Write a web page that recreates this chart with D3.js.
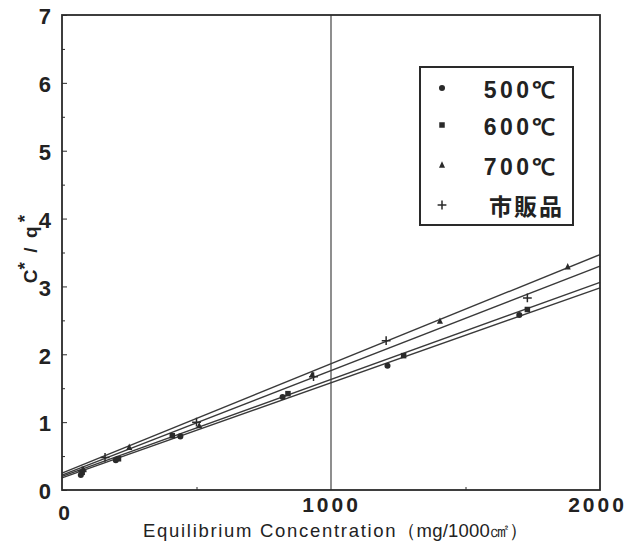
<!DOCTYPE html>
<html>
<head>
<meta charset="utf-8">
<script src="https://cdn.jsdelivr.net/npm/d3@7"></script>
<style>
  html, body { margin: 0; padding: 0; background: #fff; }
  svg { display: block; }
  .num { font-family: "Liberation Sans", Arial, sans-serif; font-weight: bold; fill: #222; }
</style>
</head>
<body>
<svg id="chart" width="637" height="542"></svg>
<script>
// Series labels and marker shapes
const seriesNames = ["500℃", "600℃", "700℃", "市販品"];
const seriesShapes = ["circle", "square", "triangle", "plus"];

// Measured points: equilibrium concentration (mg/1000cm²) and C*/q*
const conc500 = [70, 200, 440, 820, 1210, 1700];
const ratio500 = [0.22, 0.44, 0.79, 1.37, 1.83, 2.58];
const conc600 = [75, 210, 410, 840, 1270, 1730];
const ratio600 = [0.26, 0.46, 0.80, 1.42, 1.98, 2.66];
const conc700 = [80, 250, 510, 930, 1405, 1880];
const ratio700 = [0.30, 0.63, 0.95, 1.70, 2.49, 3.29];
const concCom = [75, 160, 500, 935, 1205, 1730];
const ratioCom = [0.28, 0.48, 1.00, 1.67, 2.20, 2.83];

// Fitted straight lines (intercept, slope per 1000 mg/1000cm²)
const lineIntercepts = [0.18, 0.20, 0.25, 0.22];
const lineSlopes = [1.40, 1.43, 1.61, 1.54];

// Axis ticks
const yTickLabels = [0, 1, 2, 3, 4, 5, 6, 7];
const yMinorTicks = [0.5, 1.5, 2.5, 3.5, 4.5, 5.5, 6.5];
const xTickLabels = [0, 1000, 2000];
const xMinorTicks = [500, 1500];

const pointSets = [
  d3.zip(conc500, ratio500),
  d3.zip(conc600, ratio600),
  d3.zip(conc700, ratio700),
  d3.zip(concCom, ratioCom)
];

const svg = d3.select("#chart");
const x = d3.scaleLinear().domain([0, 2000]).range([62, 600]);
const y = d3.scaleLinear().domain([0, 7]).range([490, 15]);
const ink = "#2a2a2a";

// Reference line at 1000
svg.append("line")
  .attr("x1", x(1000)).attr("x2", x(1000))
  .attr("y1", y(7)).attr("y2", y(0))
  .attr("stroke", "#444").attr("stroke-width", 1.2);

// Fitted lines
const lineGen = d3.line().x(d => x(d[0])).y(d => y(d[1]));
lineIntercepts.forEach((b, i) => {
  const pts = [0, 2000].map(c => [c, b + lineSlopes[i] * c / 1000]);
  svg.append("path")
    .attr("d", lineGen(pts))
    .attr("fill", "none")
    .attr("stroke", "#3a3a3a")
    .attr("stroke-width", 1.4);
});

// Marker drawing
function drawMarker(g, shape, cx, cy, s) {
  if (shape === "circle") {
    g.append("circle").attr("cx", cx).attr("cy", cy).attr("r", s * 0.55).attr("fill", ink);
  } else if (shape === "square") {
    g.append("rect").attr("x", cx - s * 0.5).attr("y", cy - s * 0.5)
      .attr("width", s).attr("height", s).attr("fill", ink);
  } else if (shape === "triangle") {
    const h = s * 1.1;
    g.append("path")
      .attr("d", `M${cx},${cy - h * 0.6}L${cx + h * 0.5},${cy + h * 0.45}L${cx - h * 0.5},${cy + h * 0.45}Z`)
      .attr("fill", ink);
  } else {
    const a = s * 0.8;
    g.append("path")
      .attr("d", `M${cx - a},${cy}H${cx + a}M${cx},${cy - a}V${cy + a}`)
      .attr("stroke", ink).attr("stroke-width", 1.5).attr("fill", "none");
  }
}

const marks = svg.append("g");
pointSets.forEach((pts, i) => {
  pts.forEach(p => drawMarker(marks, seriesShapes[i], x(p[0]), y(p[1]), 5.5));
});

// Frame
svg.append("rect")
  .attr("x", x(0)).attr("y", y(7))
  .attr("width", x(2000) - x(0)).attr("height", y(0) - y(7))
  .attr("fill", "none").attr("stroke", ink).attr("stroke-width", 1.8);

// Y axis: inward ticks, bold labels
const yAxis = svg.append("g").attr("transform", `translate(${x(0)},0)`)
  .call(d3.axisLeft(y).tickValues(yTickLabels).tickSize(-5).tickPadding(11).tickFormat(d3.format("d")));
yAxis.select(".domain").remove();
yAxis.selectAll("line").attr("stroke", ink);
yAxis.selectAll("text").attr("class", "num").style("font-size", "22px").attr("dy", "0.4em");

const yMinor = svg.append("g").attr("transform", `translate(${x(0)},0)`)
  .call(d3.axisLeft(y).tickValues(yMinorTicks).tickSize(-3).tickFormat(""));
yMinor.select(".domain").remove();
yMinor.selectAll("line").attr("stroke", ink);

// X axis
const xAxis = svg.append("g").attr("transform", `translate(0,${y(0)})`)
  .call(d3.axisBottom(x).tickValues(xMinorTicks).tickSize(-3).tickFormat(""));
xAxis.select(".domain").remove();
xAxis.selectAll("line").attr("stroke", ink);

const xLab = svg.append("g").attr("transform", `translate(0,${y(0)})`)
  .call(d3.axisBottom(x).tickValues(xTickLabels).tickSize(0).tickPadding(0).tickFormat(d3.format("d")));
xLab.select(".domain").remove();
xLab.selectAll("text")
  .attr("class", "num")
  .style("font-size", "21px")
  .style("letter-spacing", "3px")
  .attr("dy", d => d === 0 ? "1.45em" : "1.05em")
  .attr("dx", d => d === 2000 ? "-3px" : d === 0 ? "3px" : "0");

// Axis titles
const xTitle = svg.append("text")
  .attr("x", 143).attr("y", 537)
  .style("font-family", "'Liberation Sans', Arial, sans-serif")
  .style("font-size", "18.5px")
  .style("letter-spacing", "1.7px")
  .attr("fill", "#222");
xTitle.append("tspan").text("Equilibrium Concentration");
xTitle.append("tspan").style("font-size", "18.5px").style("letter-spacing", "0.2px").text("（mg/1000㎠）");

const yTitle = svg.append("text")
  .attr("transform", `translate(37,${y(3.55)}) rotate(-90)`)
  .attr("text-anchor", "middle")
  .style("font-family", "'Liberation Sans', Arial, sans-serif")
  .style("font-weight", "bold")
  .style("font-size", "19px")
  .attr("fill", "#222");
yTitle.append("tspan").text("C");
yTitle.append("tspan").attr("dy", "-0.3em").text("*");
yTitle.append("tspan").attr("dy", "0.3em").text("\u2002/\u2002q");
yTitle.append("tspan").attr("dy", "-0.3em").attr("dx", "4").text("*");

// Legend
const legend = svg.append("g");
legend.append("rect")
  .attr("x", 420).attr("y", 67).attr("width", 153).attr("height", 158)
  .attr("fill", "#fff").attr("stroke", ink).attr("stroke-width", 2);
const legendY = [89, 126, 166, 206];
seriesNames.forEach((name, i) => {
  drawMarker(legend, seriesShapes[i], 442, legendY[i] - 1, 5.5);
  legend.append("text")
    .attr("x", i === 3 ? 564 : 559).attr("y", legendY[i])
    .attr("text-anchor", "end")
    .attr("dy", "0.37em")
    .style("font-family", i === 3 ? "'Noto Sans CJK JP', sans-serif" : "'Liberation Sans', Arial, sans-serif")
    .style("font-weight", "bold")
    .style("font-size", "23px")
    .style("letter-spacing", i === 3 ? "2px" : "3.5px")
    .attr("fill", "#222")
    .text(name);
});
</script>
</body>
</html>
